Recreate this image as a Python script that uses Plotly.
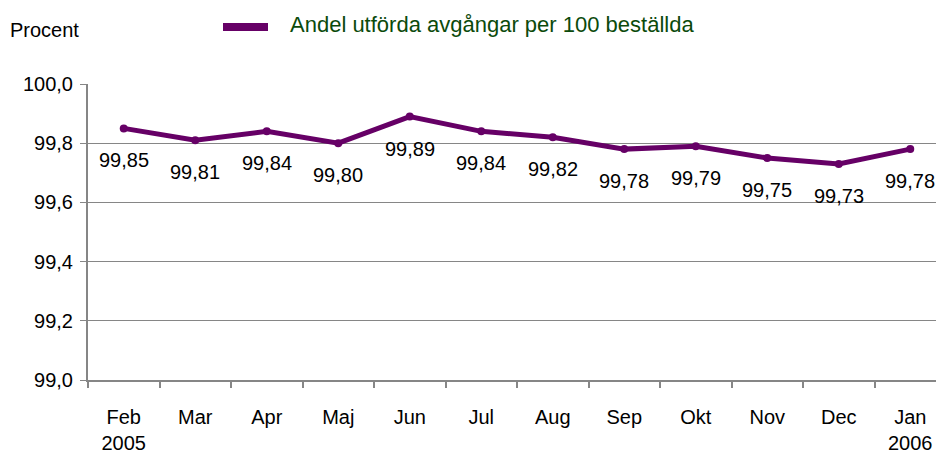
import plotly.graph_objects as go

months = ["Feb<br>2005", "Mar", "Apr", "Maj", "Jun", "Jul", "Aug", "Sep", "Okt", "Nov", "Dec", "Jan<br>2006"]
values = [99.85, 99.81, 99.84, 99.80, 99.89, 99.84, 99.82, 99.78, 99.79, 99.75, 99.73, 99.78]
series_name = "Andel utförda avgångar per 100 beställda"

W, H = 936, 457
ML, MR, MT, MB = 88, 0, 84, 77
FONT = "Liberation Sans, Arial, sans-serif"
LINE = "#660066"
GRID = "#868686"

fig = go.Figure()
fig.add_trace(go.Scatter(
    x=months, y=values, mode="lines+markers",
    line=dict(color=LINE, width=5),
    marker=dict(color=LINE, size=8),
    name=series_name, showlegend=False, hoverinfo="skip",
    cliponaxis=False,
))

for m, v in zip(months, values):
    fig.add_annotation(
        x=m, y=v, xref="x", yref="y",
        text=f"{v:.2f}".replace(".", ","),
        showarrow=False, yshift=-32,
        font=dict(family=FONT, size=20, color="#000000"),
    )

pw = W - ML - MR
ph = H - MT - MB
# legend sample line and text
fig.add_shape(type="line", xref="paper", yref="paper",
              x0=(223 - ML) / pw, x1=(268 - ML) / pw,
              y0=(H - MB - 27) / ph, y1=(H - MB - 27) / ph,
              line=dict(color=LINE, width=8))
fig.add_annotation(xref="paper", yref="paper", x=(288 - ML) / pw, y=(H - MB - 25) / ph,
                   xanchor="left", yanchor="middle", showarrow=False,
                   text=series_name, font=dict(family=FONT, size=22, color="#0b4a0b"))
fig.add_annotation(xref="paper", yref="paper", x=(8 - ML) / pw, y=(H - MB - 30) / ph,
                   xanchor="left", yanchor="middle", showarrow=False,
                   text="Procent", font=dict(family=FONT, size=20, color="#000000"))

fig.update_layout(
    width=W, height=H,
    margin=dict(l=ML, r=MR, t=MT, b=MB, pad=0, autoexpand=False),
    paper_bgcolor="white", plot_bgcolor="white",
    font=dict(family=FONT, size=20, color="#000000"),
    separators=", ",
    xaxis=dict(
        type="category",
        range=[-0.5, -0.5 + pw / 71.5],
        automargin=False,
        showgrid=False, zeroline=False,
        showline=True, linecolor=GRID, linewidth=2,
        ticks="outside", ticklen=6, tickcolor=GRID, tickwidth=2,
        tickson="boundaries",
        ticklabelstandoff=18,
        tickfont=dict(family=FONT, size=20, color="#000000"),
    ),
    yaxis=dict(
        range=[99.0, 100.0], dtick=0.2, tick0=99.0, tickformat=".1f",
        automargin=False,
        showgrid=True, gridcolor=GRID, gridwidth=1,
        zeroline=False,
        showline=True, linecolor=GRID, linewidth=2,
        ticks="outside", ticklen=6, tickcolor=GRID, tickwidth=1,
        ticklabelstandoff=3,
        tickfont=dict(family=FONT, size=20, color="#000000"),
    ),
)

fig.write_html("out.html",
               config={"displayModeBar": False},
               post_script="document.body.style.margin='0';document.body.style.overflow='hidden';")
